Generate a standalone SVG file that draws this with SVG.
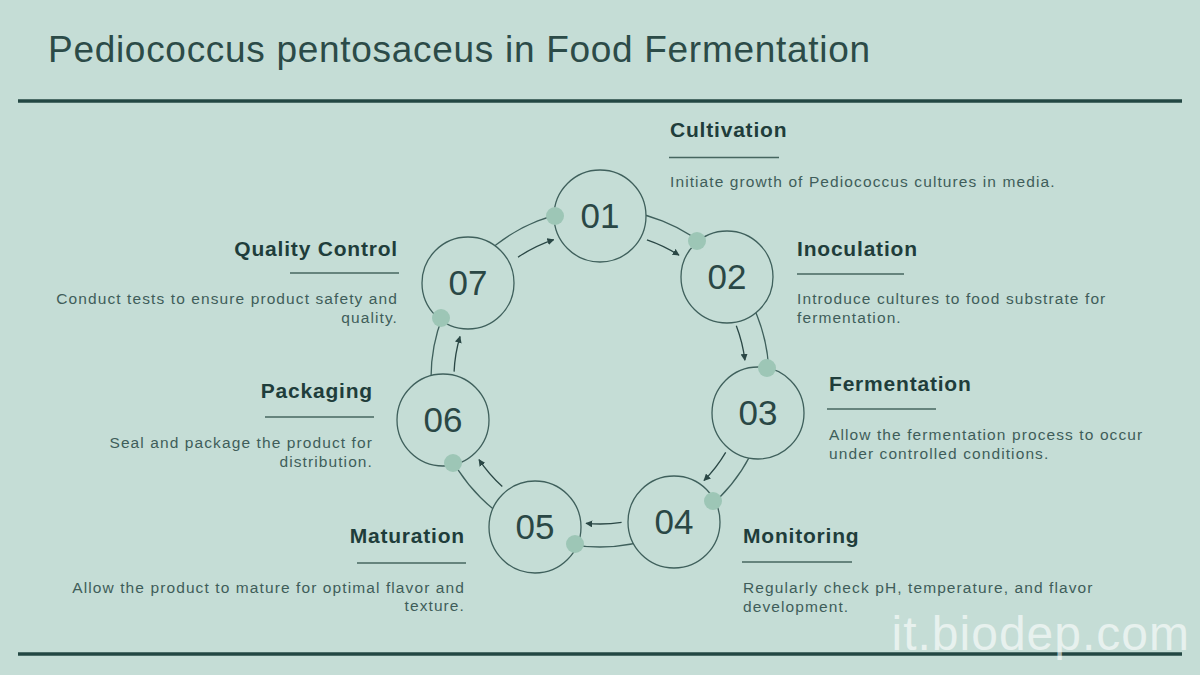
<svg xmlns="http://www.w3.org/2000/svg" width="1200" height="675" viewBox="0 0 1200 675">
<style>
.bg{fill:#c5ddd6}
.rule{stroke:#234743;stroke-width:3.5}
.title{font-family:"Liberation Sans",Arial,sans-serif;font-size:37px;fill:#2c4b48}
.node{fill:#c5ddd6;stroke:#3f605c;stroke-width:1.3}
.num{font-family:"Liberation Sans",Arial,sans-serif;font-size:35px;fill:#2a4745;text-anchor:middle}
.dot{fill:#9dc6b6}
.ring{fill:none;stroke:#3f605c;stroke-width:1.3}
.arr{fill:none;stroke:#2a4745;stroke-width:1.3;marker-end:url(#ah)}
.h{font-family:"Liberation Sans",Arial,sans-serif;font-size:21px;font-weight:bold;fill:#1f3d3b;letter-spacing:0.8px}
.d{font-family:"Liberation Sans",Arial,sans-serif;font-size:15.5px;fill:#3f5d5a;letter-spacing:1.1px}
.ul{stroke:#46665f;stroke-width:1.4}
.r{text-anchor:end}
</style>
<defs>
<marker id="ah" viewBox="0 0 10 10" refX="9" refY="5" markerWidth="7" markerHeight="7" markerUnits="userSpaceOnUse" orient="auto">
<path d="M0,0 L10,5 L0,10 z" fill="#2a4745"/>
</marker>
</defs>
<rect class="bg" x="0" y="0" width="1200" height="675"/>
<text class="title" x="48" y="62" textLength="822" lengthAdjust="spacing">Pediococcus pentosaceus in Food Fermentation</text>
<line class="rule" x1="18" y1="101" x2="1182" y2="101"/>
<line class="rule" x1="18" y1="654" x2="1182" y2="654"/>

<g id="connectors">
<circle class="ring" cx="600" cy="378" r="169"/>
<path class="arr" d="M518.0,257.2 A146,146 0 0 1 553.7,239.6"/>
<path class="arr" d="M646.9,239.8 A146,146 0 0 1 679.0,255.2"/>
<path class="arr" d="M736.3,325.7 A146,146 0 0 1 744.9,360.2"/>
<path class="arr" d="M725.7,452.3 A146,146 0 0 1 704.0,480.5"/>
<path class="arr" d="M621.6,522.4 A146,146 0 0 1 586.0,523.3"/>
<path class="arr" d="M502.3,486.5 A146,146 0 0 1 479.0,459.6"/>
<path class="arr" d="M454.1,371.6 A146,146 0 0 1 460.0,336.5"/>
</g>

<g id="n01"><circle class="node" cx="600" cy="216" r="46"/><text class="num" x="600" y="228">01</text><circle class="dot" cx="555" cy="216" r="9"/></g>
<g id="n02"><circle class="node" cx="727" cy="277" r="46"/><text class="num" x="727" y="289">02</text><circle class="dot" cx="697" cy="241" r="9"/></g>
<g id="n03"><circle class="node" cx="758" cy="413" r="46"/><text class="num" x="758" y="425">03</text><circle class="dot" cx="767" cy="368" r="9"/></g>
<g id="n04"><circle class="node" cx="674" cy="522" r="46"/><text class="num" x="674" y="534">04</text><circle class="dot" cx="713" cy="501" r="9"/></g>
<g id="n05"><circle class="node" cx="535" cy="527" r="46"/><text class="num" x="535" y="539">05</text><circle class="dot" cx="575" cy="544" r="9"/></g>
<g id="n06"><circle class="node" cx="443" cy="420" r="46"/><text class="num" x="443" y="432">06</text><circle class="dot" cx="453" cy="463" r="9"/></g>
<g id="n07"><circle class="node" cx="468" cy="283" r="46"/><text class="num" x="468" y="295">07</text><circle class="dot" cx="441" cy="318" r="9"/></g>

<g id="lab-cultivation">
<text class="h" x="670" y="137">Cultivation</text>
<line class="ul" x1="669" y1="157.5" x2="779" y2="157.5"/>
<text class="d" x="670" y="187">Initiate growth of Pediococcus cultures in media.</text>
</g>
<g id="lab-inoculation">
<text class="h" x="797" y="256">Inoculation</text>
<line class="ul" x1="797" y1="274" x2="904" y2="274"/>
<text class="d" x="797" y="304">Introduce cultures to food substrate for</text>
<text class="d" x="797" y="323">fermentation.</text>
</g>
<g id="lab-fermentation">
<text class="h" x="829" y="391">Fermentation</text>
<line class="ul" x1="827" y1="409" x2="936" y2="409"/>
<text class="d" x="829" y="440">Allow the fermentation process to occur</text>
<text class="d" x="829" y="459">under controlled conditions.</text>
</g>
<g id="lab-monitoring">
<text class="h" x="743" y="543">Monitoring</text>
<line class="ul" x1="742" y1="562" x2="852" y2="562"/>
<text class="d" x="743" y="593">Regularly check pH, temperature, and flavor</text>
<text class="d" x="743" y="612">development.</text>
</g>
<g id="lab-quality">
<text class="h r" x="398" y="256">Quality Control</text>
<line class="ul" x1="290" y1="273" x2="399" y2="273"/>
<text class="d r" x="398" y="304">Conduct tests to ensure product safety and</text>
<text class="d r" x="398" y="323">quality.</text>
</g>
<g id="lab-packaging">
<text class="h r" x="373" y="398">Packaging</text>
<line class="ul" x1="265" y1="417" x2="374" y2="417"/>
<text class="d r" x="373" y="448">Seal and package the product for</text>
<text class="d r" x="373" y="467">distribution.</text>
</g>
<g id="lab-maturation">
<text class="h r" x="465" y="543">Maturation</text>
<line class="ul" x1="357" y1="563" x2="466" y2="563"/>
<text class="d r" x="465" y="593">Allow the product to mature for optimal flavor and</text>
<text class="d r" x="465" y="611">texture.</text>
</g>
<text x="1190" y="650" text-anchor="end" font-family="Liberation Sans,Arial,sans-serif" font-size="48" letter-spacing="1" fill="#ffffff" fill-opacity="0.6">it.biodep.com</text>
</svg>
